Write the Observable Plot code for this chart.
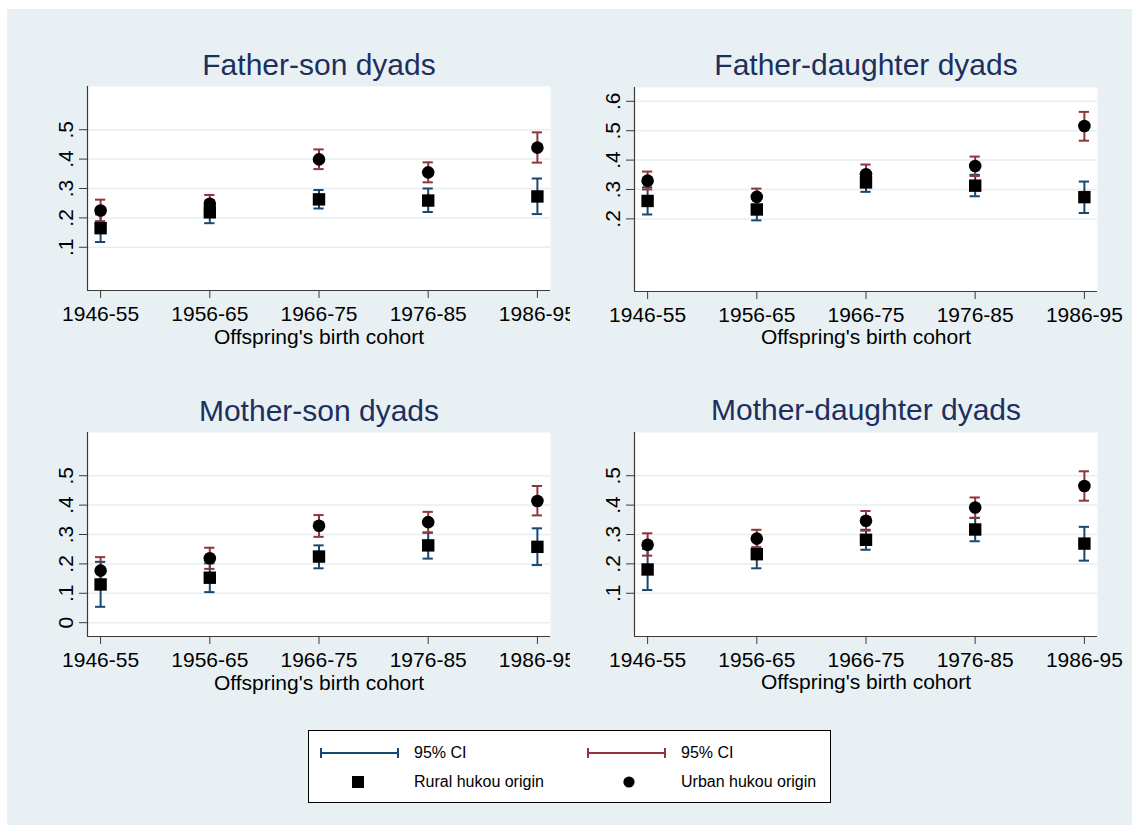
<!DOCTYPE html>
<html>
<head>
<meta charset="utf-8">
<script src="https://cdn.jsdelivr.net/npm/d3@7"></script>
<script src="https://cdn.jsdelivr.net/npm/@observablehq/plot@0.6"></script>
<style>
  html, body { margin: 0; padding: 0; background: #ffffff; }
  #page { position: relative; width: 1132px; height: 825px; overflow: hidden; background: #ffffff;
          font-family: "Liberation Sans", Arial, Helvetica, sans-serif; }
  #bg { position: absolute; left: 7px; top: 9px; right: 0; bottom: 0; background: #e8f0f3; }
  .panel { position: absolute; }
  #legend { position: absolute; left: 308px; top: 730px; width: 523px; height: 73px;
            background: #ffffff; border: 1px solid #000; box-sizing: border-box; }
  .lg { position: absolute; font-size: 16px; color: #000; line-height: 1; white-space: nowrap; }
  .lgkey { position: absolute; }
</style>
</head>
<body>
<div id="page">
  <div id="bg"></div>
  <div id="legend"></div>
</div>
<script>
// ---------------- data ----------------
const cohorts = ["1946-55", "1956-65", "1966-75", "1976-85", "1986-95"];
const panelTitles = ["Father-son dyads", "Father-daughter dyads", "Mother-son dyads", "Mother-daughter dyads"];
const xTitle = "Offspring's birth cohort";

// Father-son
const fsRural   = [0.165, 0.219, 0.263, 0.259, 0.273];
const fsRuralLo = [0.118, 0.182, 0.232, 0.220, 0.213];
const fsRuralHi = [0.212, 0.256, 0.295, 0.300, 0.334];
const fsUrban   = [0.225, 0.248, 0.399, 0.355, 0.439];
const fsUrbanLo = [0.189, 0.218, 0.366, 0.321, 0.388];
const fsUrbanHi = [0.262, 0.278, 0.433, 0.389, 0.491];
const fsTicks   = [0.1, 0.2, 0.3, 0.4, 0.5];

// Father-daughter
const fdRural   = [0.261, 0.232, 0.324, 0.313, 0.274];
const fdRuralLo = [0.215, 0.195, 0.292, 0.277, 0.220];
const fdRuralHi = [0.307, 0.269, 0.356, 0.350, 0.327];
const fdUrban   = [0.330, 0.275, 0.352, 0.380, 0.516];
const fdUrbanLo = [0.300, 0.247, 0.320, 0.346, 0.466];
const fdUrbanHi = [0.361, 0.303, 0.385, 0.412, 0.564];
const fdTicks   = [0.2, 0.3, 0.4, 0.5, 0.6];

// Mother-son
const msRural   = [0.130, 0.153, 0.225, 0.263, 0.258];
const msRuralLo = [0.054, 0.104, 0.185, 0.218, 0.196];
const msRuralHi = [0.207, 0.202, 0.263, 0.306, 0.321];
const msUrban   = [0.177, 0.219, 0.330, 0.342, 0.414];
const msUrbanLo = [0.131, 0.183, 0.292, 0.307, 0.365];
const msUrbanHi = [0.223, 0.255, 0.366, 0.377, 0.465];
const msTicks   = [0, 0.1, 0.2, 0.3, 0.4, 0.5];

// Mother-daughter
const mdRural   = [0.181, 0.233, 0.282, 0.317, 0.269];
const mdRuralLo = [0.111, 0.185, 0.248, 0.277, 0.211];
const mdRuralHi = [0.251, 0.281, 0.316, 0.356, 0.326];
const mdUrban   = [0.265, 0.286, 0.347, 0.392, 0.465];
const mdUrbanLo = [0.228, 0.257, 0.313, 0.357, 0.415];
const mdUrbanHi = [0.304, 0.316, 0.380, 0.426, 0.515];
const mdTicks   = [0.1, 0.2, 0.3, 0.4, 0.5];

const legendLabels = ["95% CI", "95% CI", "Rural hukou origin", "Urban hukou origin"];

// ---------------- styling ----------------
const FONT = '"Liberation Sans", Arial, Helvetica, sans-serif';
const BLUE = "#1a476f";
const RED = "#90353b";
const TITLE = "#1c2f5e";
const AXIS = "#3a3a3a";
const GRID = "#e6eef1";
const XDOM = [0.88, 5.12];
const YDOM = [-0.047, 0.647];
const PW = 463, PH = 204;
const ML = 70, MT = 60, MB = 70;

const fmt = d => d === 0 ? "0" : d.toFixed(1).replace(/^0/, "");

function panel(title, rural, rLo, rHi, urban, uLo, uHi, ticks, left, top, rightEdge) {
  const data = cohorts.map((c, k) => ({
    i: k + 1, rural: rural[k], rLo: rLo[k], rHi: rHi[k], urban: urban[k], uLo: uLo[k], uHi: uHi[k]
  }));
  const cap = 0.047;
  const MR = rightEdge - (left + PW);
  const chart = Plot.plot({
    width: PW + ML + MR,
    height: PH + MT + MB,
    marginLeft: ML, marginRight: MR, marginTop: MT, marginBottom: MB,
    x: {type: "linear", domain: XDOM},
    y: {type: "linear", domain: YDOM},
    style: {background: "transparent", fontFamily: FONT, overflow: "hidden"},
    marks: [
      Plot.frame({fill: "white", stroke: null}),
      Plot.gridY(ticks, {stroke: GRID, strokeOpacity: 1, strokeWidth: 1.5}),
      Plot.ruleX([XDOM[0]], {stroke: AXIS, strokeWidth: 1.2}),
      Plot.ruleY([YDOM[0]], {stroke: AXIS, strokeWidth: 1.2}),
      Plot.axisX([1, 2, 3, 4, 5], {
        tickSize: 8, tickPadding: 8, stroke: AXIS, fill: "black", fontSize: 21,
        tickFormat: v => cohorts[v - 1], label: null
      }),
      Plot.axisY(ticks, {tickSize: 8, stroke: AXIS, tickFormat: () => "", label: null}),
      Plot.text(ticks, {
        y: d => d, text: fmt, frameAnchor: "left", rotate: -90,
        textAnchor: "middle", lineAnchor: "bottom", dx: -15, fontSize: 21, fill: "black"
      }),
      Plot.text([title], {frameAnchor: "top", text: d => d, dy: -12, lineAnchor: "bottom", fontSize: 30, fill: TITLE}),
      Plot.text([xTitle], {frameAnchor: "bottom", text: d => d, dy: 53, lineAnchor: "bottom", fontSize: 21, fill: "black"}),
      // rural CI (blue)
      Plot.ruleX(data, {x: "i", y1: "rLo", y2: "rHi", stroke: BLUE, strokeWidth: 2}),
      Plot.ruleY(data, {y: "rLo", x1: d => d.i - cap, x2: d => d.i + cap, stroke: BLUE, strokeWidth: 2}),
      Plot.ruleY(data, {y: "rHi", x1: d => d.i - cap, x2: d => d.i + cap, stroke: BLUE, strokeWidth: 2}),
      // urban CI (red)
      Plot.ruleX(data, {x: "i", y1: "uLo", y2: "uHi", stroke: RED, strokeWidth: 2}),
      Plot.ruleY(data, {y: "uLo", x1: d => d.i - cap, x2: d => d.i + cap, stroke: RED, strokeWidth: 2}),
      Plot.ruleY(data, {y: "uHi", x1: d => d.i - cap, x2: d => d.i + cap, stroke: RED, strokeWidth: 2}),
      // markers
      Plot.dot(data, {x: "i", y: "urban", r: 6.3, fill: "black", stroke: null}),
      Plot.dot(data, {x: "i", y: "rural", r: 7.0, symbol: "square", fill: "black", stroke: null})
    ]
  });
  chart.classList.add("panel");
  chart.style.left = (left - ML) + "px";
  chart.style.top = (top - MT) + "px";
  chart.style.position = "absolute";
  document.getElementById("page").appendChild(chart);
}

panel(panelTitles[0], fsRural, fsRuralLo, fsRuralHi, fsUrban, fsUrbanLo, fsUrbanHi, fsTicks, 86.5, 86, 570);
panel(panelTitles[1], fdRural, fdRuralLo, fdRuralHi, fdUrban, fdUrbanLo, fdUrbanHi, fdTicks, 634.3, 86.5, 1132);
panel(panelTitles[2], msRural, msRuralLo, msRuralHi, msUrban, msUrbanLo, msUrbanHi, msTicks, 86.5, 432.3, 570);
panel(panelTitles[3], mdRural, mdRuralLo, mdRuralHi, mdUrban, mdUrbanLo, mdUrbanHi, mdTicks, 634.3, 432.3, 1132);

// ---------------- legend ----------------
const legend = document.getElementById("legend");
function capKey(color, x, y) {
  return `<svg class="lgkey" style="left:${x}px;top:${y - 6}px" width="80" height="12">
    <line x1="1" y1="6" x2="78" y2="6" stroke="${color}" stroke-width="2.2"/>
    <line x1="1" y1="1" x2="1" y2="11" stroke="${color}" stroke-width="2"/>
    <line x1="78" y1="1" x2="78" y2="11" stroke="${color}" stroke-width="2"/></svg>`;
}
const lx0 = 308, ly0 = 730;
let html = "";
html += capKey(BLUE, 320 - lx0 - 1, 753 - ly0 - 1);
html += `<div class="lg" style="left:${413 - lx0}px;top:${753 - ly0 - 9}px">${legendLabels[0]}</div>`;
html += capKey(RED, 587 - lx0 - 1, 753 - ly0 - 1);
html += `<div class="lg" style="left:${680 - lx0}px;top:${753 - ly0 - 9}px">${legendLabels[1]}</div>`;
html += `<svg class="lgkey" style="left:${357 - lx0 - 6}px;top:${782 - ly0 - 7}px" width="12" height="12"><rect x="0" y="0" width="12" height="12" fill="#000"/></svg>`;
html += `<div class="lg" style="left:${413 - lx0}px;top:${782 - ly0 - 9}px">${legendLabels[2]}</div>`;
html += `<svg class="lgkey" style="left:${628 - lx0 - 6}px;top:${782 - ly0 - 7}px" width="12" height="12"><circle cx="6" cy="6" r="5.6" fill="#000"/></svg>`;
html += `<div class="lg" style="left:${680 - lx0}px;top:${782 - ly0 - 9}px">${legendLabels[3]}</div>`;
legend.innerHTML = html;
</script>
</body>
</html>
